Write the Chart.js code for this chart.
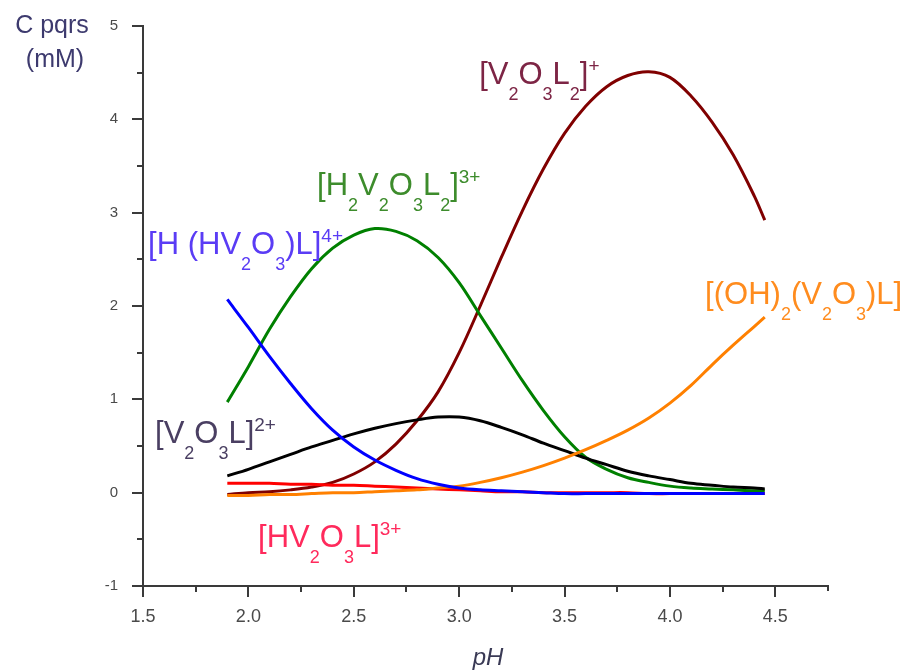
<!DOCTYPE html>
<html>
<head>
<meta charset="utf-8">
<script src="https://cdn.jsdelivr.net/npm/chart.js@4.4.1/dist/chart.umd.min.js"></script>
<style>
  body { margin: 0; background: #fff; }
  canvas { display: block; }
</style>
</head>
<body>
<canvas id="speciesChart" width="910" height="672"></canvas>
<script>
// pH values where the curves were read
const pH = [1.9, 2.0, 2.1, 2.2, 2.3, 2.4, 2.5, 2.6, 2.7, 2.8, 2.9, 3.0, 3.1, 3.2, 3.3,
            3.4, 3.5, 3.6, 3.7, 3.8, 3.9, 4.0, 4.1, 4.2, 4.3, 4.4, 4.45];

// concentrations (mM)
const H_HV2O3_L = [2.07, 1.77, 1.46, 1.17, 0.9, 0.67, 0.49, 0.35, 0.24, 0.15, 0.09, 0.05, 0.03, 0.02, 0.01,
                   0.0, -0.01, -0.01, -0.01, -0.01, -0.01, -0.01, -0.01, -0.01, -0.01, -0.01, -0.01];
const H2V2O3L2 = [0.97, 1.35, 1.75, 2.1, 2.4, 2.62, 2.76, 2.83, 2.8, 2.7, 2.52, 2.25, 1.9, 1.55, 1.2,
                  0.88, 0.6, 0.38, 0.25, 0.16, 0.11, 0.07, 0.05, 0.04, 0.03, 0.02, 0.02];
const V2O3L2 = [-0.02, 0.0, 0.01, 0.03, 0.06, 0.11, 0.2, 0.33, 0.52, 0.77, 1.08, 1.5, 2.0, 2.52, 3.02,
                3.47, 3.85, 4.14, 4.35, 4.47, 4.51, 4.45, 4.25, 3.97, 3.62, 3.18, 2.92];
const V2O3L = [0.18, 0.25, 0.33, 0.41, 0.49, 0.56, 0.63, 0.69, 0.74, 0.78, 0.81, 0.81, 0.77, 0.7, 0.62,
               0.53, 0.45, 0.37, 0.3, 0.23, 0.18, 0.14, 0.1, 0.08, 0.06, 0.05, 0.04];
const OH2_V2O3_L = [-0.03, -0.03, -0.02, -0.02, -0.01, 0.0, 0.0, 0.01, 0.02, 0.03, 0.05, 0.07, 0.11, 0.16, 0.22,
                    0.29, 0.37, 0.46, 0.56, 0.67, 0.8, 0.96, 1.15, 1.37, 1.58, 1.78, 1.88];
const HV2O3L = [0.1, 0.1, 0.1, 0.09, 0.09, 0.08, 0.08, 0.07, 0.06, 0.05, 0.04, 0.03, 0.02, 0.01, 0.01,
                0.0, 0.0, 0.0, 0.0, 0.0, -0.01, -0.01, -0.01, -0.01, -0.01, -0.01, -0.01];

const xTicks = [1.5, 2.0, 2.5, 3.0, 3.5, 4.0, 4.5];
const yTicks = [-1, 0, 1, 2, 3, 4, 5];

// species labels: parts are [text, 'n' | 'sub' | 'sup'], anchored in data units (left, baseline)
const labels = [
  { x: 3.095, y: 4.376, color: '#7d2545', parts: [['[V', 'n'], ['2', 'sub'], ['O', 'n'], ['3', 'sub'], ['L', 'n'], ['2', 'sub'], [']', 'n'], ['+', 'sup']] },
  { x: 2.326, y: 3.19, color: '#3d8c2c', parts: [['[H', 'n'], ['2', 'sub'], ['V', 'n'], ['2', 'sub'], ['O', 'n'], ['3', 'sub'], ['L', 'n'], ['2', 'sub'], [']', 'n'], ['3+', 'sup']] },
  { x: 1.524, y: 2.56, color: '#5a3cf5', parts: [['[H (HV', 'n'], ['2', 'sub'], ['O', 'n'], ['3', 'sub'], [')L]', 'n'], ['4+', 'sup']] },
  { x: 4.167, y: 2.017, color: '#ff8c1e', parts: [['[(OH)', 'n'], ['2', 'sub'], ['(V', 'n'], ['2', 'sub'], ['O', 'n'], ['3', 'sub'], [')L]', 'n']] },
  { x: 1.557, y: 0.534, color: '#4a3f62', parts: [['[V', 'n'], ['2', 'sub'], ['O', 'n'], ['3', 'sub'], ['L]', 'n'], ['2+', 'sup']] },
  { x: 2.046, y: -0.587, color: '#ff2a5c', parts: [['[HV', 'n'], ['2', 'sub'], ['O', 'n'], ['3', 'sub'], ['L]', 'n'], ['3+', 'sup']] }
];

function series(values) {
  return values.map((v, i) => ({ x: pH[i], y: v }));
}

const FONT = '"Liberation Sans", Arial, sans-serif';

const decorations = {
  id: 'decorations',
  afterDraw(chart) {
    const ctx = chart.ctx;
    const xs = chart.scales.x, ys = chart.scales.y;
    ctx.save();
    // tick marks, major and minor
    ctx.strokeStyle = '#3a3a3a';
    ctx.lineWidth = 2;
    for (let v = 1.5; v <= 4.51; v += 0.25) {
      const px = Math.round(xs.getPixelForValue(v));
      const len = (Math.abs(v * 2 - Math.round(v * 2)) < 1e-6) ? 11 : 6;
      ctx.beginPath();
      ctx.moveTo(px, ys.bottom);
      ctx.lineTo(px, ys.bottom + len);
      ctx.stroke();
    }
    ctx.beginPath();
    ctx.moveTo(xs.right, ys.bottom);
    ctx.lineTo(xs.right, ys.bottom + 5);
    ctx.stroke();
    for (let v = -1; v <= 5.01; v += 0.5) {
      const py = Math.round(ys.getPixelForValue(v));
      const len = (Math.abs(v - Math.round(v)) < 1e-6) ? 11 : 6;
      ctx.beginPath();
      ctx.moveTo(xs.left, py);
      ctx.lineTo(xs.left - len, py);
      ctx.stroke();
    }
    // axis titles
    ctx.fillStyle = '#3d3a6e';
    ctx.textAlign = 'center';
    ctx.textBaseline = 'alphabetic';
    ctx.font = '25px ' + FONT;
    ctx.fillText('C pqrs', 52, 33);
    ctx.fillText('(mM)', 55, 67);
    ctx.fillStyle = '#3a3a55';
    ctx.font = 'italic 24px ' + FONT;
    ctx.fillText('pH', 488, 665);
    // species labels
    ctx.textAlign = 'left';
    labels.forEach(lab => {
      let px = xs.getPixelForValue(lab.x);
      const base = ys.getPixelForValue(lab.y);
      ctx.fillStyle = lab.color;
      lab.parts.forEach(([txt, kind]) => {
        let dy = 0;
        if (kind === 'n') ctx.font = '31px ' + FONT;
        else if (kind === 'sub') { ctx.font = '18px ' + FONT; dy = 16; }
        else { ctx.font = '19px ' + FONT; dy = -12; }
        ctx.fillText(txt, px, base + dy);
        px += ctx.measureText(txt).width;
      });
    });
    ctx.restore();
  }
};

new Chart(document.getElementById('speciesChart'), {
  type: 'line',
  data: {
    datasets: [
      { label: '[H(HV2O3)L]4+', data: series(H_HV2O3_L), borderColor: '#0000ff' },
      { label: '[(OH)2(V2O3)L]', data: series(OH2_V2O3_L), borderColor: '#ff8000' },
      { label: '[HV2O3L]3+', data: series(HV2O3L), borderColor: '#ff0000' },
      { label: '[V2O3L]2+', data: series(V2O3L), borderColor: '#000000' },
      { label: '[H2V2O3L2]3+', data: series(H2V2O3L2), borderColor: '#008000' },
      { label: '[V2O3L2]+', data: series(V2O3L2), borderColor: '#800000' }
    ]
  },
  options: {
    responsive: false,
    animation: false,
    layout: { padding: { left: 0, top: 24, right: 82, bottom: 0 } },
    elements: {
      point: { radius: 0 },
      line: { borderWidth: 3, tension: 0.35, fill: false }
    },
    plugins: { legend: { display: false }, tooltip: { enabled: false } },
    scales: {
      x: {
        type: 'linear',
        min: 1.5,
        max: 4.75,
        afterFit(scale) { scale.height = 86; },
        afterBuildTicks(scale) { scale.ticks = xTicks.map(v => ({ value: v })); },
        grid: { display: false },
        border: { display: true, color: '#3a3a3a', width: 2 },
        ticks: {
          padding: 12,
          color: '#4a4a4a',
          font: { family: FONT, size: 18 },
          callback: v => v.toFixed(1)
        }
      },
      y: {
        type: 'linear',
        min: -1,
        max: 5,
        afterFit(scale) { scale.width = 143; },
        afterBuildTicks(scale) { scale.ticks = yTicks.map(v => ({ value: v })); },
        grid: { display: false },
        border: { display: true, color: '#3a3a3a', width: 2 },
        ticks: {
          padding: 17,
          color: '#4a4a4a',
          font: { family: FONT, size: 15 },
          callback: v => String(v)
        }
      }
    }
  },
  plugins: [decorations]
});
</script>
</body>
</html>
